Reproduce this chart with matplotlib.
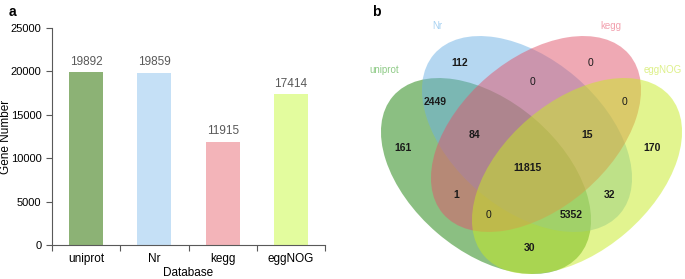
import matplotlib
matplotlib.use("Agg")
import matplotlib.pyplot as plt
from matplotlib.patches import Ellipse

plt.rcParams['font.family'] = ['Liberation Sans', 'DejaVu Sans']

# bar chart data
databases = ['uniprot', 'Nr', 'kegg', 'eggNOG']
gene_numbers = [19892, 19859, 11915, 17414]
bar_colors = ['#8CB275', '#C5E0F6', '#F3B4B9', '#E3FC9E']
y_ticks = [0, 5000, 10000, 15000, 20000, 25000]

# venn data: ellipse (center x, center y, angle) in pixel units of the right panel
venn_names = ['uniprot', 'Nr', 'kegg', 'eggNOG']
venn_fill = ['#198107', '#6DB1E5', '#E1556B', '#C7EB21']
venn_label_colors = ['#8FCB87', '#A8D2F2', '#F2A0AE', '#DDF088']
venn_centers = [(486, 176), (527, 134), (536, 134), (577, 176)]
venn_angles = [40.6, 40.6, -40.6, -40.6]
venn_label_pos = [(384, 70), (437, 26), (611, 26), (663, 70)]
region_counts = ['112', '0', '0', '2449', '0', '84', '15', '161', '170',
                 '11815', '1', '32', '0', '5352', '30']
region_pos = [(460, 63), (591, 63), (532, 82), (435, 102), (624, 102),
              (474, 135), (587, 135), (403, 148), (652, 148), (527, 168),
              (456, 195), (610, 195), (489, 215), (571, 215), (530, 248)]

fig = plt.figure(figsize=(6.85, 2.79), dpi=100)

# ---- panel a ----
ax = fig.add_axes([52/685, 34/279, 273/685, 217/279])
x = list(range(len(databases)))
ax.bar(x, gene_numbers, width=0.5, color=bar_colors)
for xi, v in zip(x, gene_numbers):
    ax.text(xi, v + 500, str(v), ha='center', va='bottom', fontsize=8.5, color='#595959')
ax.set_xlim(-0.5, len(databases) - 0.5)
ax.set_ylim(0, 25000)
ax.set_yticks(y_ticks)
ax.set_xticks([i - 0.5 for i in range(len(databases) + 1)])
ax.set_xticklabels([])
ax.set_xticks(x, minor=True)
ax.set_xticklabels(databases, minor=True, fontsize=8.5)
ax.tick_params(axis='x', which='minor', length=0, pad=6)
ax.tick_params(axis='x', which='major', length=4, direction='out', color='#595959')
ax.tick_params(axis='y', length=4, labelsize=8, color='#595959')
for s in ['top', 'right']:
    ax.spines[s].set_visible(False)
for s in ['left', 'bottom']:
    ax.spines[s].set_color('#595959')
ax.set_ylabel('Gene Number', fontsize=8.5)
ax.yaxis.set_label_coords(-40/273, 0.5)
ax.set_xlabel('Database', fontsize=8.5, labelpad=1)
fig.text(12/685, 1 - 12/279, 'a', fontsize=10, fontweight='bold', va='center', ha='center')

# ---- panel b ----
vx = fig.add_axes([370/685, 0, 315/685, 1])
vx.set_xlim(370, 685)
vx.set_ylim(279, 0)
vx.axis('off')
for c, ang, col in zip(venn_centers, venn_angles, venn_fill):
    vx.add_patch(Ellipse(c, 245, 150, angle=ang, facecolor=col, alpha=0.5, edgecolor='none'))
for name, pos, col in zip(venn_names, venn_label_pos, venn_label_colors):
    vx.text(pos[0], pos[1], name, color=col, fontsize=7, ha='center', va='center')
for cnt, pos in zip(region_counts, region_pos):
    vx.text(pos[0], pos[1], cnt, fontsize=7.5, ha='center', va='center',
            fontweight='normal' if cnt == '0' else 'bold', color='#1a1a1a')
fig.text(376/685, 1 - 12/279, 'b', fontsize=10, fontweight='bold', va='center', ha='center')

fig.savefig('out.png', dpi=100)
